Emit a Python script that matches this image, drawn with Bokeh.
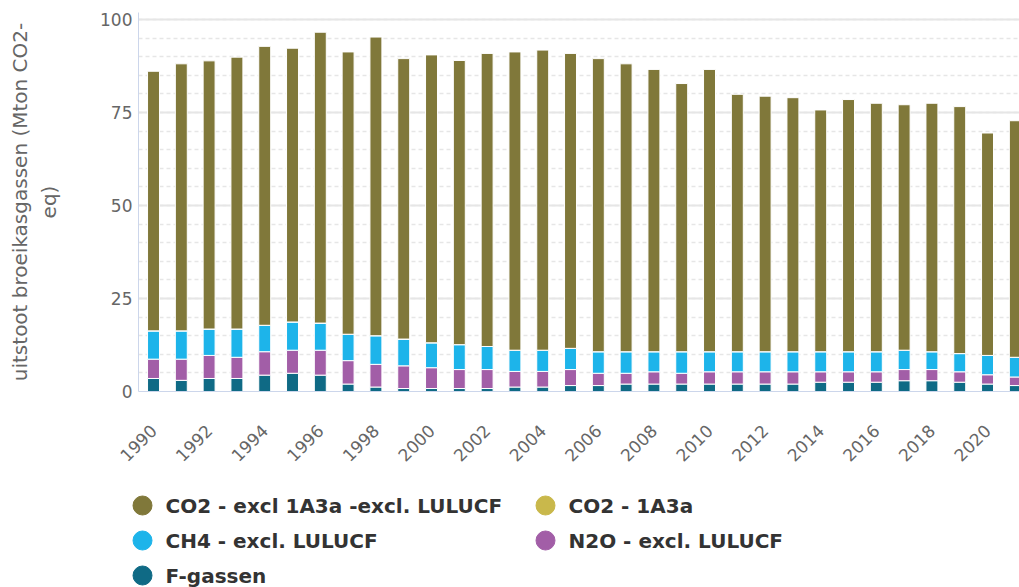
from bokeh.plotting import figure
from bokeh.layouts import column
from bokeh.models import (ColumnDataSource, Range1d, FixedTicker, SingleIntervalTicker)
from bokeh.core.properties import value
from bokeh.embed import file_html
from bokeh.resources import INLINE

years = [1990, 1991, 1992, 1993, 1994, 1995, 1996, 1997, 1998, 1999,
         2000, 2001, 2002, 2003, 2004, 2005, 2006, 2007, 2008, 2009,
         2010, 2011, 2012, 2013, 2014, 2015, 2016, 2017, 2018, 2019,
         2020, 2021]

f_gassen = [3.5, 3.0, 3.5, 3.5, 4.4, 4.9, 4.4, 2.0, 1.2, 0.8,
            0.8, 0.8, 0.8, 1.2, 1.2, 1.6, 1.6, 2.0, 2.0, 2.0,
            2.0, 2.0, 2.0, 2.0, 2.5, 2.5, 2.5, 2.9, 2.9, 2.5,
            2.0, 1.6]
n2o = [5.2, 5.7, 6.2, 5.7, 6.3, 6.2, 6.7, 6.3, 6.1, 6.1,
       5.6, 5.1, 5.1, 4.2, 4.2, 4.3, 3.3, 2.9, 3.3, 2.9,
       3.3, 3.3, 3.3, 3.3, 2.8, 2.8, 2.8, 3.0, 3.0, 2.8,
       2.5, 2.3]
ch4 = [7.6, 7.6, 7.1, 7.6, 7.1, 7.6, 7.3, 7.1, 7.7, 7.2,
       6.7, 6.7, 6.2, 5.7, 5.7, 5.7, 5.8, 5.8, 5.4, 5.8,
       5.4, 5.4, 5.4, 5.4, 5.4, 5.4, 5.4, 5.2, 4.8, 4.9,
       5.2, 5.3]
co2_1a3a = [0.0, 0.0, 0.0, 0.0, 0.0, 0.0, 0.0, 0.0, 0.0, 0.0,
            0.0, 0.0, 0.0, 0.0, 0.0, 0.0, 0.0, 0.0, 0.0, 0.0,
            0.0, 0.0, 0.0, 0.0, 0.0, 0.0, 0.0, 0.0, 0.0, 0.0,
            0.0, 0.0]
co2_excl = [69.8, 71.8, 72.1, 73.1, 75.0, 73.6, 78.2, 75.9, 80.3, 75.4,
            77.4, 76.4, 78.8, 80.2, 80.7, 79.3, 78.8, 77.4, 75.9, 72.1,
            75.9, 69.2, 68.7, 68.3, 65.0, 67.8, 66.8, 66.0, 66.8, 66.4,
            59.8, 63.6]

series_names = ["CO2 - excl 1A3a -excl. LULUCF", "CO2 - 1A3a",
                "CH4 - excl. LULUCF", "N2O - excl. LULUCF", "F-gassen"]
series_colors = ["#80783a", "#c9b84b", "#1db4ea", "#a25ea7", "#0f6a85"]
tick_years = [1990, 1992, 1994, 1996, 1998, 2000, 2002, 2004, 2006, 2008,
              2010, 2012, 2014, 2016, 2018, 2020]
y_title = "uitstoot broeikasgassen (Mton CO2-\neq)"

FONT = "DejaVu Sans"
W = 1019
H_CHART = 470
H_LEGEND = 117

source = ColumnDataSource(data=dict(
    year=years, fg=f_gassen, n2o=n2o, ch4=ch4, co2a=co2_1a3a, co2=co2_excl))

p = figure(width=W, height=H_CHART, output_backend="svg", toolbar_location=None,
           x_range=Range1d(1989.46, 2021.15), y_range=Range1d(0, 101.9),
           min_border_left=138, min_border_right=0, min_border_top=12,
           min_border_bottom=78)
p.outline_line_color = None
p.background_fill_color = "white"
p.border_fill_color = "white"

# stacked bars: bottom to top
stack_keys = ["fg", "n2o", "ch4", "co2a", "co2"]
stack_colors = [series_colors[4], series_colors[3], series_colors[2],
                series_colors[1], series_colors[0]]
p.vbar_stack(stack_keys, x="year", width=0.43, source=source,
             color=stack_colors, line_color="white", line_width=1)

# axes
p.xaxis.ticker = FixedTicker(ticks=tick_years)
p.xaxis.major_label_orientation = 0.785398
p.xaxis.axis_line_color = "#ccd6eb"
p.xaxis.major_tick_line_color = None
p.xaxis.minor_tick_line_color = None
p.xaxis.major_label_text_color = "#666666"
p.xaxis.major_label_text_font = FONT
p.xaxis.major_label_text_font_size = "17px"
p.xaxis.major_label_standoff = 30

p.yaxis.ticker = SingleIntervalTicker(interval=25, num_minor_ticks=5)
p.yaxis.axis_line_color = "#ccd6eb"
p.yaxis.major_tick_line_color = None
p.yaxis.minor_tick_line_color = None
p.yaxis.major_label_text_color = "#666666"
p.yaxis.major_label_text_font = FONT
p.yaxis.major_label_text_font_size = "17px"
p.yaxis.major_label_standoff = 0
p.yaxis.axis_label = y_title
p.yaxis.axis_label_text_font = FONT
p.yaxis.axis_label_text_font_size = "20px"
p.yaxis.axis_label_text_font_style = "normal"
p.yaxis.axis_label_text_color = "#666666"
p.yaxis.axis_label_standoff = 36

p.xgrid.grid_line_color = None
p.ygrid.grid_line_color = "#e6e6e6"
p.ygrid.grid_line_width = 2
p.ygrid.minor_grid_line_color = "#e6e6e6"
p.ygrid.minor_grid_line_dash = "4 3"
p.ygrid.minor_grid_line_width = 1.5

# legend panel (two columns, circle markers)
col_x = [142, 545]
row_y0 = 35
row_pitch = 35
lx = [col_x[i % 2] for i in range(len(series_names))]
ly = [row_y0 + row_pitch * (i // 2) for i in range(len(series_names))]
leg_src = ColumnDataSource(data=dict(
    x=lx, y=ly, tx=[x + 23 for x in lx], name=series_names, color=series_colors))

lg = figure(width=W, height=H_LEGEND, output_backend="svg", toolbar_location=None,
            x_range=Range1d(0, W), y_range=Range1d(H_LEGEND, 0),
            x_axis_type=None, y_axis_type=None,
            min_border_left=0, min_border_right=0, min_border_top=0,
            min_border_bottom=0)
try:
    lg.frame_align = False
except AttributeError:
    pass
lg.outline_line_color = None
lg.grid.visible = False
lg.background_fill_color = "white"
lg.border_fill_color = "white"
lg.scatter(x="x", y="y", size=19, marker="circle", color="color", source=leg_src)
lg.text(x="tx", y="y", text="name", source=leg_src,
        text_font=value(FONT), text_font_style="bold", text_font_size="20px",
        text_color="#333333", text_baseline="middle", text_align="left")

layout = column(p, lg, spacing=0)
open("out.html", "w").write(file_html(layout, INLINE))
